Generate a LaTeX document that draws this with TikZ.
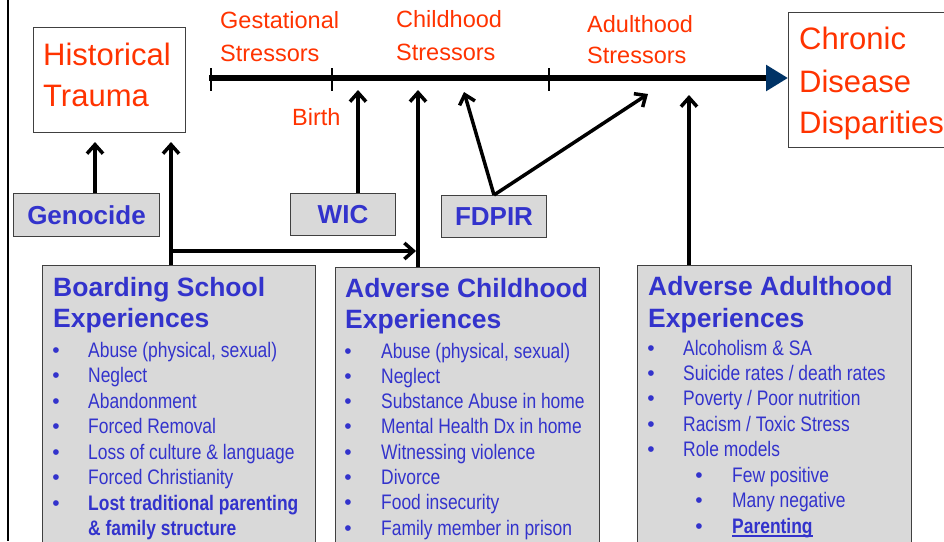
\documentclass[tikz,border=0pt]{standalone}
\usepackage{fontspec}
\setmainfont{Liberation Sans}
\newfontfamily\narrowfont{Liberation Sans}[FakeStretch=0.83]
\usetikzlibrary{arrows.meta}
\definecolor{redt}{HTML}{FF3300}
\definecolor{bluet}{HTML}{3333CC}
\definecolor{boxgray}{HTML}{D9D9D9}
\definecolor{edgegray}{HTML}{404040}
\definecolor{navyt}{HTML}{003366}
\begin{document}
\begin{tikzpicture}[x=1pt,y=-1pt,
  redlbl/.style={inner sep=0pt,anchor=base west,text=redt,font=\fontsize{23.5}{23.5}\selectfont},
  bigred/.style={inner sep=0pt,anchor=base west,text=redt,font=\fontsize{31}{31}\selectfont},
  whitebox/.style={draw=edgegray,line width=1pt,fill=white,inner sep=0pt,anchor=north west},
  graybox/.style={draw=edgegray,line width=1pt,fill=boxgray,inner sep=0pt,anchor=north west},
  boxlbl/.style={text=bluet,font=\bfseries\fontsize{26}{26}\selectfont,inner sep=0pt},
  ttl/.style={inner sep=0pt,anchor=base west,text=bluet,font=\bfseries\fontsize{26.5}{26.5}\selectfont},
  itm/.style={inner sep=0pt,anchor=base west,text=bluet,font=\narrowfont\fontsize{21}{21}\selectfont},
  bitm/.style={inner sep=0pt,anchor=base west,text=bluet,font=\narrowfont\bfseries\fontsize{21}{21}\selectfont},
  bul/.style={inner sep=0pt,anchor=base,text=bluet,font=\fontsize{21}{21}\selectfont},
  arr/.style={line width=3.5pt,-{Straight Barb[length=9pt,width=16pt]}},
  tick/.style={line width=1.5pt},
]
\useasboundingbox (0,0) rectangle (944,541);
\fill[white] (0,0) rectangle (944,541);
% left border
\draw[line width=2pt] (8,0) -- (8,541);

% boxes
\node[whitebox,minimum width=152pt,minimum height=105pt] (ht) at (33,27) {};
\node[whitebox,minimum width=170pt,minimum height=135pt] (cdd) at (788,12) {};
\node[graybox,minimum width=146pt,minimum height=43pt] (geno) at (13,193) {};
\node[graybox,minimum width=105pt,minimum height=42pt] (wic) at (290,193) {};
\node[graybox,minimum width=105pt,minimum height=42pt] (fdpir) at (441,195) {};
\node[graybox,minimum width=273pt,minimum height=300pt] (bse) at (42,265) {};
\node[graybox,minimum width=264pt,minimum height=300pt] (ace) at (335,267) {};
\node[graybox,minimum width=274pt,minimum height=300pt] (aae) at (637,265) {};

\node[boxlbl] (genolbl) at (geno.center) {Genocide};
\node[boxlbl] (wiclbl) at (wic.center) {WIC};
\node[boxlbl] (fdpirlbl) at (fdpir.center) {FDPIR};

% red texts
\node[bigred] (ht1) at (43,65) {Historical};
\node[bigred] (ht2) at (43,106) {Trauma};
\node[bigred] (cd1) at (799,49) {Chronic};
\node[bigred] (cd2) at (799,92) {Disease};
\node[bigred] (cd3) at (799,133) {Disparities};
\node[redlbl] (gs1) at (220,28) {Gestational};
\node[redlbl] (gs2) at (220,61) {Stressors};
\node[redlbl] (cs1) at (396,27) {Childhood};
\node[redlbl] (cs2) at (396,60) {Stressors};
\node[redlbl] (as1) at (587,32) {Adulthood};
\node[redlbl] (as2) at (587,63) {Stressors};
\node[redlbl] (birth) at (292,125) {Birth};

% timeline
\coordinate (tl0) at (209,78);
\draw[line width=5.5pt,-{Triangle[length=22pt,width=25pt,color=navyt,fill=navyt]}] (tl0) -- (tl0 -| cdd.west);
\draw[tick] (211,68) -- (211,91);
\draw[tick] (332,68) -- (332,91);
\draw[tick] (549,68) -- (549,91);

% arrows
\coordinate (t1) at (95,142);
\coordinate (t2) at (171,142);
\coordinate (j1) at (171,251);
\coordinate (t3) at (416,251);
\coordinate (t4) at (418,90);
\coordinate (t5) at (358,90);
\coordinate (t6) at (464,92);
\coordinate (t7) at (648,94);
\coordinate (t8) at (689,95);
\draw[arr] (geno.north -| t1) -- (t1);
\draw[arr] (bse.north -| t2) -- (t2);
\draw[arr] (j1) -- (t3);
\draw[arr] (ace.north -| t4) -- (t4);
\draw[arr] (wic.north -| t5) -- (t5);
\draw[arr] (fdpir.north) -- (t6);
\draw[arr] (fdpir.north) -- (t7);
\draw[arr] (aae.north -| t8) -- (t8);

% Boarding School box
\node[ttl] (bst1) at (53,296) {Boarding School};
\node[ttl] (bst2) at (53,327) {Experiences};
\foreach \t [count=\i] in {{Abuse (physical, sexual)},{Neglect},{Abandonment},{Forced Removal},{Loss of culture \& language},{Forced Christianity}}{
  \node[bul] (bsb\i) at (56,{357+25.5*(\i-1)}) {•};
  \node[itm] (bsi\i) at (88,{357+25.5*(\i-1)}) {\t};
}
\node[bul] (bsb7) at (56,510) {•};
\node[bitm] (bsi7) at (88,510) {Lost traditional parenting};
\node[bitm] (bsi8) at (88,535.5) {\& family structure};

% ACE box
\node[ttl] (acet1) at (345,297) {Adverse Childhood};
\node[ttl] (acet2) at (345,328) {Experiences};
\foreach \t [count=\i] in {{Abuse (physical, sexual)},{Neglect},{Substance Abuse in home},{Mental Health Dx in home},{Witnessing violence},{Divorce},{Food insecurity},{Family member in prison}}{
  \node[bul] (aceb\i) at (348,{358+25.3*(\i-1)}) {•};
  \node[itm] (acei\i) at (381,{358+25.3*(\i-1)}) {\t};
}

% AAE box
\node[ttl] (aaet1) at (648,295) {Adverse Adulthood};
\node[ttl] (aaet2) at (648,327) {Experiences};
\foreach \t [count=\i] in {{Alcoholism \& SA},{Suicide rates / death rates},{Poverty / Poor nutrition},{Racism / Toxic Stress},{Role models}}{
  \node[bul] (aaeb\i) at (651,{355+25.4*(\i-1)}) {•};
  \node[itm] (aaei\i) at (683,{355+25.4*(\i-1)}) {\t};
}
\node[bul] (aaesb1) at (699,482) {•};
\node[itm] (aaes1) at (732,482) {Few positive};
\node[bul] (aaesb2) at (699,507.5) {•};
\node[itm] (aaes2) at (732,507.5) {Many negative};
\node[bul] (aaesb3) at (699,533) {•};
\node[bitm] (aaes3) at (732,533) {Parenting};
\draw[bluet,line width=1.6pt] ([yshift=-3pt]aaes3.base west) -- ([yshift=-3pt]aaes3.base east);
\end{tikzpicture}
\end{document}
